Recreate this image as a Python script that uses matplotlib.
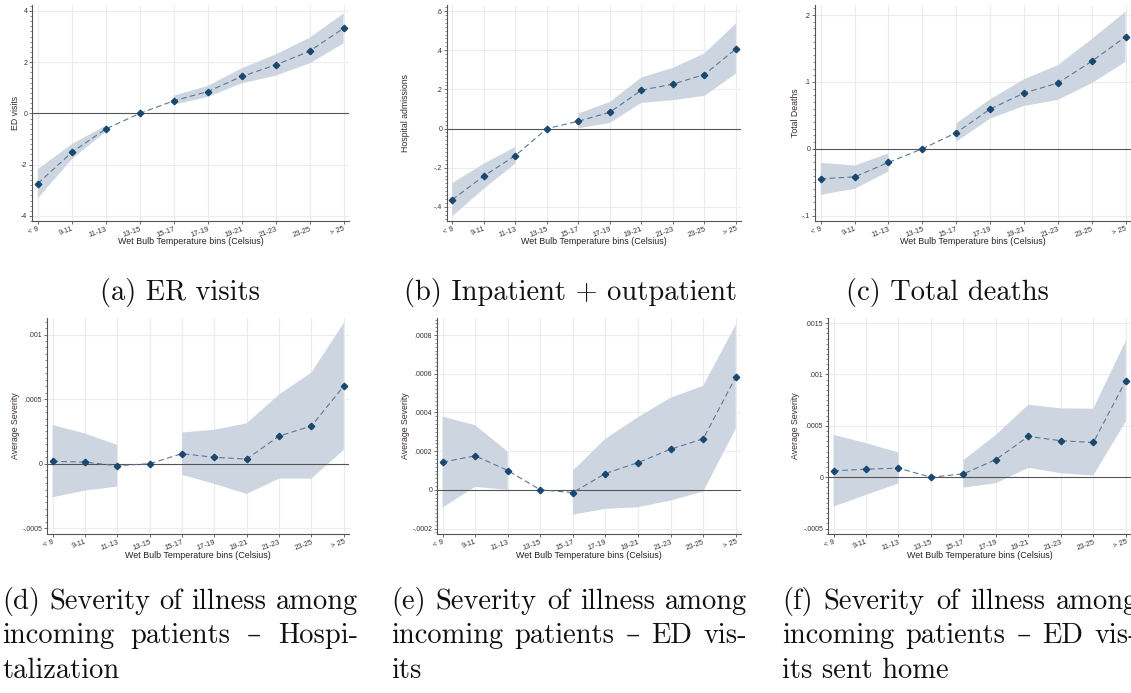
import matplotlib
matplotlib.use("Agg")
import matplotlib.pyplot as plt
from matplotlib.ticker import AutoMinorLocator, FixedLocator, FixedFormatter
import numpy as np

W, H = 1131, 693

bins = ["< 9", "9-11", "11-13", "13-15", "15-17", "17-19", "19-21", "21-23", "23-25", "> 25"]
nan = np.nan

# point estimates and 95% bands per bin (13-15 is the omitted reference bin)
er_est = [-2.74, -1.52, -0.61, 0.0, 0.49, 0.85, 1.44, 1.89, 2.43, 3.32]
er_lo = [-3.32, -1.79, -0.72, nan, 0.34, 0.64, 1.17, 1.47, 1.95, 2.73]
er_hi = [-2.18, -1.20, -0.48, nan, 0.69, 1.07, 1.76, 2.30, 2.95, 3.90]

adm_est = [-0.363, -0.242, -0.138, 0.0, 0.0375, 0.0835, 0.196, 0.227, 0.276, 0.407]
adm_lo = [-0.448, -0.307, -0.179, nan, 0.001, 0.029, 0.131, 0.145, 0.167, 0.281]
adm_hi = [-0.278, -0.179, -0.094, nan, 0.077, 0.136, 0.261, 0.310, 0.384, 0.537]

death_est = [-0.0449, -0.042, -0.0204, 0.0, 0.024, 0.0594, 0.0833, 0.0983, 0.1307, 0.1676]
death_lo = [-0.0688, -0.060, -0.034, nan, 0.0105, 0.045, 0.064, 0.073, 0.098, 0.130]
death_hi = [-0.021, -0.025, -0.007, nan, 0.038, 0.074, 0.104, 0.125, 0.164, 0.205]

sev_hosp_est = [0.000018, 0.000013, -0.0000156, 0.0, 0.000078, 0.0000495, 0.0000365, 0.000214, 0.000292, 0.000602]
sev_hosp_lo = [-0.00026, -0.000208, -0.000177, nan, -0.000086, -0.000156, -0.000234, -0.000115, -0.000115, 0.000107]
sev_hosp_hi = [0.0003, 0.000234, 0.000146, nan, 0.000242, 0.000263, 0.000313, 0.000536, 0.000706, 0.001091]

sev_ed_est = [0.000143, 0.000176, 0.0001, 0.0, -0.0000138, 0.0000845, 0.000141, 0.00021, 0.000264, 0.000583]
sev_ed_lo = [-0.0000914, 0.0000155, 0.0, nan, -0.000128, -0.0000983, -0.0000897, -0.0000552, -0.0000086, 0.000316]
sev_ed_hi = [0.000379, 0.000334, 0.000198, nan, 0.0001, 0.000264, 0.000376, 0.000476, 0.000538, 0.000853]

sev_home_est = [0.0000618, 0.000078, 0.0000878, 0.0, 0.0000325, 0.000172, 0.000397, 0.000355, 0.000338, 0.00094]
sev_home_lo = [-0.000286, -0.000172, -0.0000618, nan, -0.000101, -0.0000586, 0.0000911, 0.000039, 0.0000163, 0.000543]
sev_home_hi = [0.000413, 0.000332, 0.000241, nan, 0.000166, 0.000413, 0.000706, 0.00067, 0.000667, 0.00133]

panels = [
    # est, lo, hi, ylabel, yticks, yticklabels, ylim, axes box (l, t, r, b) in px, ylabel x
    (er_est, er_lo, er_hi, "ED visits", [-4, -2, 0, 2, 4], ["-4", "-2", "0", "2", "4"],
     (-4.2, 4.23), (32, 5, 349, 221), 15),
    (adm_est, adm_lo, adm_hi, "Hospital admissions", [-0.4, -0.2, 0, 0.2, 0.4, 0.6],
     ["-.4", "-.2", "0", ".2", ".4", ".6"], (-0.472, 0.631), (447, 5, 741, 221), 405),
    (death_est, death_lo, death_hi, "Total Deaths", [-0.1, 0, 0.1, 0.2], ["-.1", "0", ".1", ".2"],
     (-0.108, 0.215), (815, 5, 1131, 221), 796),
    (sev_hosp_est, sev_hosp_lo, sev_hosp_hi, "Average Severity", [-0.0005, 0, 0.0005, 0.001],
     ["-.0005", "0", ".0005", ".001"], (-0.000544, 0.001128), (47, 318, 349, 534), 16),
    (sev_ed_est, sev_ed_lo, sev_ed_hi, "Average Severity",
     [-0.0002, 0, 0.0002, 0.0004, 0.0006, 0.0008],
     ["-.0002", "0", ".0002", ".0004", ".0006", ".0008"], (-0.000228, 0.000888),
     (437, 318, 741, 534), 405),
    (sev_home_est, sev_home_lo, sev_home_hi, "Average Severity",
     [-0.0005, 0, 0.0005, 0.001, 0.0015], ["-.0005", "0", ".0005", ".001", ".0015"],
     (-0.000553, 0.00155), (828, 318, 1131, 534), 796),
]

plt.rcParams["font.family"] = ["Liberation Sans", "DejaVu Sans"]

band_color = "#cdd6e0"
line_color = "#5b7799"
marker_color = "#1a476f"
axis_color = "#555555"
grid_color = "#ececec"
title_color = "#3b2b2b"

fig = plt.figure(figsize=(W / 100, H / 100), dpi=100)

x = np.arange(len(bins))

for est, lo, hi, ylab, yt, ytl, ylim, box, ylab_x in panels:
    l, t, r, b = box
    ax = fig.add_axes([l / W, 1 - b / H, (r - l) / W, (b - t) / H])
    ax.fill_between(x, lo, hi, color=band_color, lw=0, zorder=1)
    ax.plot(x, est, color=line_color, lw=0.8, ls=(0, (5, 3)), zorder=3)
    ax.plot(x, est, ls="none", marker="D", ms=3.3, color=marker_color, zorder=4)
    ax.axhline(0, color=axis_color, lw=0.8, zorder=2)

    ax.set_xlim(-0.17, 9.16)
    ax.set_ylim(*ylim)
    ax.xaxis.set_major_locator(FixedLocator(x))
    ax.xaxis.set_major_formatter(FixedFormatter(bins))
    ax.yaxis.set_major_locator(FixedLocator(yt))
    ax.yaxis.set_major_formatter(FixedFormatter(ytl))
    ax.yaxis.set_minor_locator(AutoMinorLocator(10))

    for v in x:
        ax.axvline(v, color=grid_color, lw=0.8, zorder=0)
    for v in yt:
        if v != 0:
            ax.axhline(v, color=grid_color, lw=0.8, zorder=0)

    for side in ("top", "right"):
        ax.spines[side].set_visible(False)
    for side in ("left", "bottom"):
        ax.spines[side].set_color(axis_color)
        ax.spines[side].set_linewidth(0.8)

    ax.tick_params(axis="both", which="major", length=2.2, width=0.6, color=axis_color,
                   labelcolor="#333333", pad=1.2)
    ax.tick_params(axis="y", which="major", labelsize=5.0)
    ax.tick_params(axis="x", which="major", labelsize=5.4)
    ax.tick_params(axis="y", which="minor", length=1.3, width=0.5, color=axis_color)
    for lab in ax.get_xticklabels():
        lab.set_rotation(20)
        lab.set_ha("right")
        lab.set_va("top")
        lab.set_rotation_mode("anchor")

    fig.text(ylab_x / W, 1 - ((t + b) / 2) / H, ylab, rotation=90, ha="center", va="center",
             fontsize=6.3, color=title_color)
    fig.text(((l + r) / 2) / W, 1 - (b + 21) / H, "Wet Bulb Temperature bins (Celsius)",
             ha="center", va="center", fontsize=6.4, color="#222222")

# captions set in Computer Modern
cap_font = ["cmr10", "DejaVu Serif"]
cap_size = 20.5


def caption(xc, yb, s):
    fig.text(xc / W, 1 - yb / H, s, ha="center", va="baseline", fontsize=cap_size,
             family=cap_font, color="#111111")


caption(180, 300, "(a) ER visits")
caption(570, 300, "(b) Inpatient + outpatient")
caption(947, 300, "(c) Total deaths")

renderer = fig.canvas.get_renderer()


def justified(x0, x1, yb, words):
    items = [fig.text(0, 1 - yb / H, w, ha="left", va="baseline", fontsize=cap_size,
                      family=cap_font, color="#111111") for w in words]
    widths = [it.get_window_extent(renderer).width for it in items]
    gap = (x1 - x0 - sum(widths)) / (len(words) - 1)
    pos = x0
    for it, w in zip(items, widths):
        it.set_x(pos / W)
        pos += w + gap


def plain(x0, yb, s):
    fig.text(x0 / W, 1 - yb / H, s, ha="left", va="baseline", fontsize=cap_size,
             family=cap_font, color="#111111")


long_caps = [
    (2, ["(d) Severity of illness among", "incoming patients \u2013 Hospi-", "talization"]),
    (391, ["(e) Severity of illness among", "incoming patients \u2013 ED vis-", "its"]),
    (782, ["(f) Severity of illness among", "incoming patients \u2013 ED vis-", "its sent home"]),
]
for x0, lines in long_caps:
    justified(x0, x0 + 356, 609, lines[0].split(" "))
    justified(x0, x0 + 356, 643, lines[1].split(" "))
    plain(x0, 678, lines[2])

fig.savefig("out.png", dpi=100)
